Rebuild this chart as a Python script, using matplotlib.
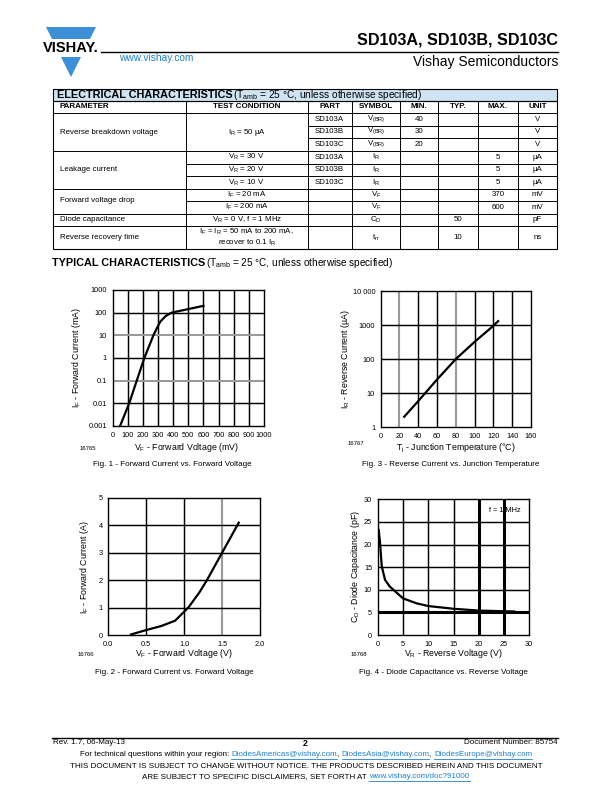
import matplotlib
matplotlib.use("Agg")
import matplotlib.pyplot as plt
from matplotlib.patches import Rectangle, Polygon
from matplotlib.lines import Line2D

plt.rcParams['font.family'] = ['Liberation Sans', 'DejaVu Sans']
plt.rcParams['mathtext.fontset'] = 'custom'
plt.rcParams['mathtext.rm'] = 'Liberation Sans'

# ---------------- data ----------------
# Fig. 1 forward current vs forward voltage (log)
fig1_vf_mv = [50, 110, 160, 210, 270, 292, 315, 350, 390, 600]
fig1_if_ma = [0.001, 0.01, 0.1, 1, 10, 20, 40, 70, 100, 200]
fig1_xticks = [0, 100, 200, 300, 400, 500, 600, 700, 800, 900, 1000]
fig1_yticks = [0.001, 0.01, 0.1, 1, 10, 100, 1000]
fig1_ylabels = ["0.001", "0.01", "0.1", "1", "10", "100", "1000"]

# Fig. 2 forward current vs forward voltage (linear)
fig2_vf_v = [0.30, 0.50, 0.70, 0.88, 1.00, 1.06, 1.20, 1.30, 1.50, 1.72]
fig2_if_a = [0.02, 0.18, 0.33, 0.52, 0.85, 1.02, 1.55, 2.0, 3.0, 4.1]
fig2_xticks = [0.0, 0.5, 1.0, 1.5, 2.0]
fig2_xlabels = ["0.0", "0.5", "1.0", "1.5", "2.0"]
fig2_yticks = [0, 1, 2, 3, 4, 5]

# Fig. 3 reverse current vs junction temperature
fig3_tj = [25, 40, 60, 80, 100, 120, 125]
fig3_ir_ua = [2.0, 5.8, 25, 100, 320, 950, 1300]
fig3_xticks = [0, 20, 40, 60, 80, 100, 120, 140, 160]
fig3_yticks = [1, 10, 100, 1000, 10000]
fig3_ylabels = ["1", "10", "100", "1000", "10 000"]

# Fig. 4 diode capacitance vs reverse voltage
fig4_vr = [0.2, 0.46, 0.8, 1.45, 2.4, 3.8, 5, 7.7, 10, 15, 20, 25, 27]
fig4_cd = [23.2, 20.4, 15.2, 12.2, 10.7, 9.3, 8.1, 7.0, 6.4, 5.8, 5.4, 5.25, 5.2]
fig4_xticks = [0, 5, 10, 15, 20, 25, 30]
fig4_yticks = [0, 5, 10, 15, 20, 25, 30]

# Table
tbl_headers = ["PARAMETER", "TEST CONDITION", "PART", "SYMBOL", "MIN.", "TYP.", "MAX.", "UNIT"]
tbl_parts = ["SD103A", "SD103B", "SD103C", "SD103A", "SD103B", "SD103C", "", "", "", ""]
tbl_symbols = [r"V$_\mathregular{(BR)}$", r"V$_\mathregular{(BR)}$", r"V$_\mathregular{(BR)}$",
               r"I$_\mathregular{R}$", r"I$_\mathregular{R}$", r"I$_\mathregular{R}$",
               r"V$_\mathregular{F}$", r"V$_\mathregular{F}$", r"C$_\mathregular{D}$", r"t$_\mathregular{rr}$"]
tbl_min = ["40", "30", "20", "", "", "", "", "", "", ""]
tbl_typ = ["", "", "", "", "", "", "", "", "50", "10"]
tbl_max = ["", "", "", "5", "5", "5", "370", "600", "", ""]
tbl_unit = ["V", "V", "V", "µA", "µA", "µA", "mV", "mV", "pF", "ns"]
tbl_params = [("Reverse breakdown voltage", 0, 3), ("Leakage current", 3, 6),
              ("Forward voltage drop", 6, 8), ("Diode capacitance", 8, 9),
              ("Reverse recovery time", 9, 10)]
tbl_conds = [(r"I$_\mathregular{R}$ = 50 µA", 0, 3),
             (r"V$_\mathregular{R}$ = 30 V", 3, 4), (r"V$_\mathregular{R}$ = 20 V", 4, 5),
             (r"V$_\mathregular{R}$ = 10 V", 5, 6),
             (r"I$_\mathregular{F}$ = 20 mA", 6, 7), (r"I$_\mathregular{F}$ = 200 mA", 7, 8),
             (r"V$_\mathregular{R}$ = 0 V, f = 1 MHz", 8, 9),
             (r"I$_\mathregular{F}$ = I$_\mathregular{R}$ = 50 mA to 200 mA," + "\n" +
              r"recover to 0.1 I$_\mathregular{R}$", 9, 10)]

W, H = 612, 792
fig = plt.figure(figsize=(W / 100, H / 100), dpi=100)
renderer = fig.canvas.get_renderer()


def P(x, y):
    return x / W, 1 - y / H


def txt(x, y, s, **kw):
    kw.setdefault('va', 'center')
    return fig.text(*P(x, y), s, **kw)


def hline(x0, x1, y, lw=0.7, color='black'):
    fig.add_artist(Line2D([x0 / W, x1 / W], [1 - y / H, 1 - y / H], lw=lw, color=color))


def vline(x, y0, y1, lw=0.7, color='black'):
    fig.add_artist(Line2D([x / W, x / W], [1 - y0 / H, 1 - y1 / H], lw=lw, color=color))


BLUE = '#3d8fd6'
LINK = '#1f7fc8'


def seq(xc, y, parts, fs):
    """Draw text segments one after another, centred on xc; links underlined."""
    objs = [txt(0, y, s, fontsize=fs, color=c, ha='left') for s, c in parts]
    ws = [o.get_window_extent(renderer).width for o in objs]
    x = xc - sum(ws) / 2
    for o, w, (s, c) in zip(objs, ws, parts):
        o.set_x(x / W)
        if c == LINK:
            hline(x, x + w, y + 4.3, lw=0.6, color=LINK)
        x += w


# ---------------- header ----------------
fig.add_artist(Polygon([P(46, 27), P(96, 27), P(71, 77)], closed=True, color=BLUE, lw=0))
fig.add_artist(Rectangle(P(40, 57), 60 / W, 18 / H, color='white', lw=0))
txt(70.5, 48, "VISHAY.", fontsize=10.5, fontweight='bold', ha='center')
txt(558, 40, "SD103A, SD103B, SD103C", fontsize=11.6, fontweight='bold', ha='right')
hline(101, 558, 52, lw=1.0)
txt(119, 58, "www.vishay.com", fontsize=7.3, color=LINK, ha='left')
txt(558, 62, "Vishay Semiconductors", fontsize=10, ha='right')

# ---------------- table ----------------
cols = [52.7, 185.7, 307.7, 351.7, 400, 438, 478, 518, 556.7]
rows = [113, 125.5, 138, 151, 163.5, 176, 188.5, 201, 213.5, 225.5, 249]
ttop, tband, thead = 88.5, 101, 113
fig.add_artist(Rectangle(P(cols[0], tband), (cols[-1] - cols[0]) / W, (tband - ttop) / H,
                         facecolor='#cfe4f3', edgecolor='black', lw=0.8))
txt(57, 95, "ELECTRICAL CHARACTERISTICS", fontsize=7.85, fontweight='bold', ha='left')
txt(233, 95.5, r"(T$_\mathregular{amb}$ = 25 °C, unless otherwise specified)", fontsize=7.3, ha='left')
fig.add_artist(Rectangle(P(cols[0], rows[-1]), (cols[-1] - cols[0]) / W, (rows[-1] - tband) / H,
                         facecolor='none', edgecolor='black', lw=0.8))
hline(cols[0], cols[-1], thead)
for c in cols[1:-1]:
    vline(c, tband, rows[-1])
hc = (tband + thead) / 2
for i, h in enumerate(tbl_headers):
    if i == 0:
        txt(cols[0] + 7, hc, h, fontsize=5.8, fontweight='bold', ha='left')
    else:
        txt((cols[i] + cols[i + 1]) / 2, hc, h, fontsize=5.8, fontweight='bold', ha='center')
param_bounds = [p[2] for p in tbl_params]
cond_bounds = [c[2] for c in tbl_conds]
for r in range(1, len(rows) - 1):
    y = rows[r]
    if r in param_bounds:
        x0 = cols[0]
    elif r in cond_bounds:
        x0 = cols[1]
    else:
        x0 = cols[2]
    hline(x0, cols[-1], y)
fs = 5.7
for name, a, b in tbl_params:
    txt(cols[0] + 7, (rows[a] + rows[b]) / 2, name, fontsize=fs, ha='left')
for name, a, b in tbl_conds:
    txt((cols[1] + cols[2]) / 2, (rows[a] + rows[b]) / 2, name, fontsize=fs, ha='center',
        linespacing=1.1, multialignment='center')
for i in range(10):
    yc = (rows[i] + rows[i + 1]) / 2
    for j, lst in enumerate([tbl_parts, tbl_symbols, tbl_min, tbl_typ, tbl_max, tbl_unit]):
        if lst[i]:
            txt((cols[j + 2] + cols[j + 3]) / 2, yc, lst[i], fontsize=fs, ha='center')

# ---------------- typical characteristics ----------------
txt(52, 263, "TYPICAL CHARACTERISTICS", fontsize=7.8, fontweight='bold', ha='left')
txt(206, 263.5, r"(T$_\mathregular{amb}$ = 25 °C, unless otherwise specified)", fontsize=7.2, ha='left')


def make_ax(l, r, t, b):
    ax = fig.add_axes([l / W, 1 - b / H, (r - l) / W, (b - t) / H])
    ax.tick_params(length=0, labelsize=5.3, pad=4)
    for s in ax.spines.values():
        s.set_linewidth(1.0)
    return ax


GRAY = '#9a9a9a'
GLW = 1.05

# Fig 1
ax1 = make_ax(112.5, 264, 290, 426)
ax1.set_yscale('log')
ax1.set_xlim(0, 1000)
ax1.set_ylim(0.001, 1000)
ax1.set_xticks(fig1_xticks)
ax1.set_yticks(fig1_yticks, fig1_ylabels)
ax1.yaxis.set_minor_locator(matplotlib.ticker.NullLocator())
for v in fig1_xticks[1:-1]:
    ax1.axvline(v, color='black', lw=GLW, zorder=1)
for v in fig1_yticks[1:-1]:
    g = v in (10, 0.1)
    ax1.axhline(v, color=GRAY if g else 'black', lw=GLW + (0.4 if g else 0), zorder=1)
ax1.plot(fig1_vf_mv, fig1_if_ma, color='black', lw=1.6, zorder=3)

# Fig 3
ax3 = make_ax(380.7, 531, 291, 427)
ax3.set_yscale('log')
ax3.set_xlim(0, 160)
ax3.set_ylim(1, 10000)
ax3.set_xticks(fig3_xticks)
ax3.set_yticks(fig3_yticks, fig3_ylabels)
ax3.yaxis.set_minor_locator(matplotlib.ticker.NullLocator())
for v in fig3_xticks[1:-1]:
    g = v in (20, 80)
    ax3.axvline(v, color=GRAY if g else 'black', lw=GLW + (0.5 if g else 0), zorder=1)
for v in fig3_yticks[1:-1]:
    ax3.axhline(v, color='black', lw=GLW, zorder=1)
ax3.plot(fig3_tj, fig3_ir_ua, color='black', lw=1.6, zorder=3)

# Fig 2
ax2 = make_ax(108.3, 260, 498, 635)
ax2.set_xlim(0, 2.0)
ax2.set_ylim(0, 5)
ax2.set_xticks(fig2_xticks, fig2_xlabels)
ax2.set_yticks(fig2_yticks)
for v in fig2_xticks[1:-1]:
    g = v == 1.5
    ax2.axvline(v, color=GRAY if g else 'black', lw=GLW + (0.5 if g else 0), zorder=1)
for v in fig2_yticks[1:-1]:
    ax2.axhline(v, color='black', lw=GLW, zorder=1)
ax2.plot(fig2_vf_v, fig2_if_a, color='black', lw=1.6, zorder=3)

# Fig 4
ax4 = make_ax(377.7, 529.3, 499.3, 635)
ax4.set_xlim(0, 30)
ax4.set_ylim(0, 30)
ax4.set_xticks(fig4_xticks)
ax4.set_yticks(fig4_yticks)
for v in fig4_xticks[1:-1]:
    g = v in (20, 25)
    ax4.axvline(v, color='black', lw=2.2 if g else GLW, zorder=1)
for v in fig4_yticks[1:-1]:
    ax4.axhline(v, color='black', lw=2.2 if v == 5 else GLW, zorder=1)
ax4.plot(fig4_vr, fig4_cd, color='black', lw=1.6, zorder=3)
ax4.text(0.94, 0.915, "f = 1 MHz", transform=ax4.transAxes, fontsize=5.3, ha='right', va='center')

# labels and captions
lab = 6.3
cap = 5.8
txt(76.5, 358, r"I$_\mathregular{F}$ - Forward Current (mA)", fontsize=lab, rotation=90, ha='center')
txt(186, 448, r"V$_\mathregular{F}$ - Forward Voltage (mV)", fontsize=lab, ha='center')
txt(88, 448, "16765", fontsize=4.3, ha='center')
txt(172, 464, "Fig. 1 - Forward Current vs. Forward Voltage", fontsize=cap, ha='center')

txt(346, 359, r"I$_\mathregular{R}$ - Reverse Current (µA)", fontsize=lab, rotation=90, ha='center')
txt(455.5, 448, r"T$_\mathregular{j}$ - Junction Temperature (°C)", fontsize=lab, ha='center')
txt(356, 444, "16767", fontsize=4.3, ha='center')
txt(451, 464, "Fig. 3 - Reverse Current vs. Junction Temperature", fontsize=cap, ha='center')

txt(84.5, 567, r"I$_\mathregular{F}$ - Forward Current (A)", fontsize=lab, rotation=90, ha='center')
txt(184, 654, r"V$_\mathregular{F}$ - Forward Voltage (V)", fontsize=lab, ha='center')
txt(86, 654, "16766", fontsize=4.3, ha='center')
txt(174, 672.5, "Fig. 2 - Forward Current vs. Forward Voltage", fontsize=cap, ha='center')

txt(355.5, 567, r"C$_\mathregular{D}$ - Diode Capacitance (pF)", fontsize=lab, rotation=90, ha='center')
txt(453, 654, r"V$_\mathregular{R}$ - Reverse Voltage (V)", fontsize=lab, ha='center')
txt(359, 654, "16768", fontsize=4.3, ha='center')
txt(443.5, 672.5, "Fig. 4 - Diode Capacitance vs. Reverse Voltage", fontsize=cap, ha='center')

# ---------------- footer ----------------
ffs = 5.8
hline(52, 558, 737.5, lw=1.0)
txt(53, 742.5, "Rev. 1.7, 06-May-13", fontsize=ffs, ha='left')
txt(305, 743, "2", fontsize=6.3, fontweight='bold', ha='center')
txt(558, 742.5, "Document Number: 85754", fontsize=ffs, ha='right')
seq(306, 754.5, [("For technical questions within your region: ", 'black'),
                 ("DiodesAmericas@vishay.com", LINK), (", ", 'black'),
                 ("DiodesAsia@vishay.com", LINK), (", ", 'black'),
                 ("DiodesEurope@vishay.com", LINK)], ffs)
txt(306, 767, "THIS DOCUMENT IS SUBJECT TO CHANGE WITHOUT NOTICE. THE PRODUCTS DESCRIBED HEREIN AND THIS DOCUMENT",
    fontsize=ffs, ha='center')
seq(306, 777, [("ARE SUBJECT TO SPECIFIC DISCLAIMERS, SET FORTH AT ", 'black'),
               ("www.vishay.com/doc?91000", LINK)], ffs)

fig.savefig("out.png", dpi=100)
